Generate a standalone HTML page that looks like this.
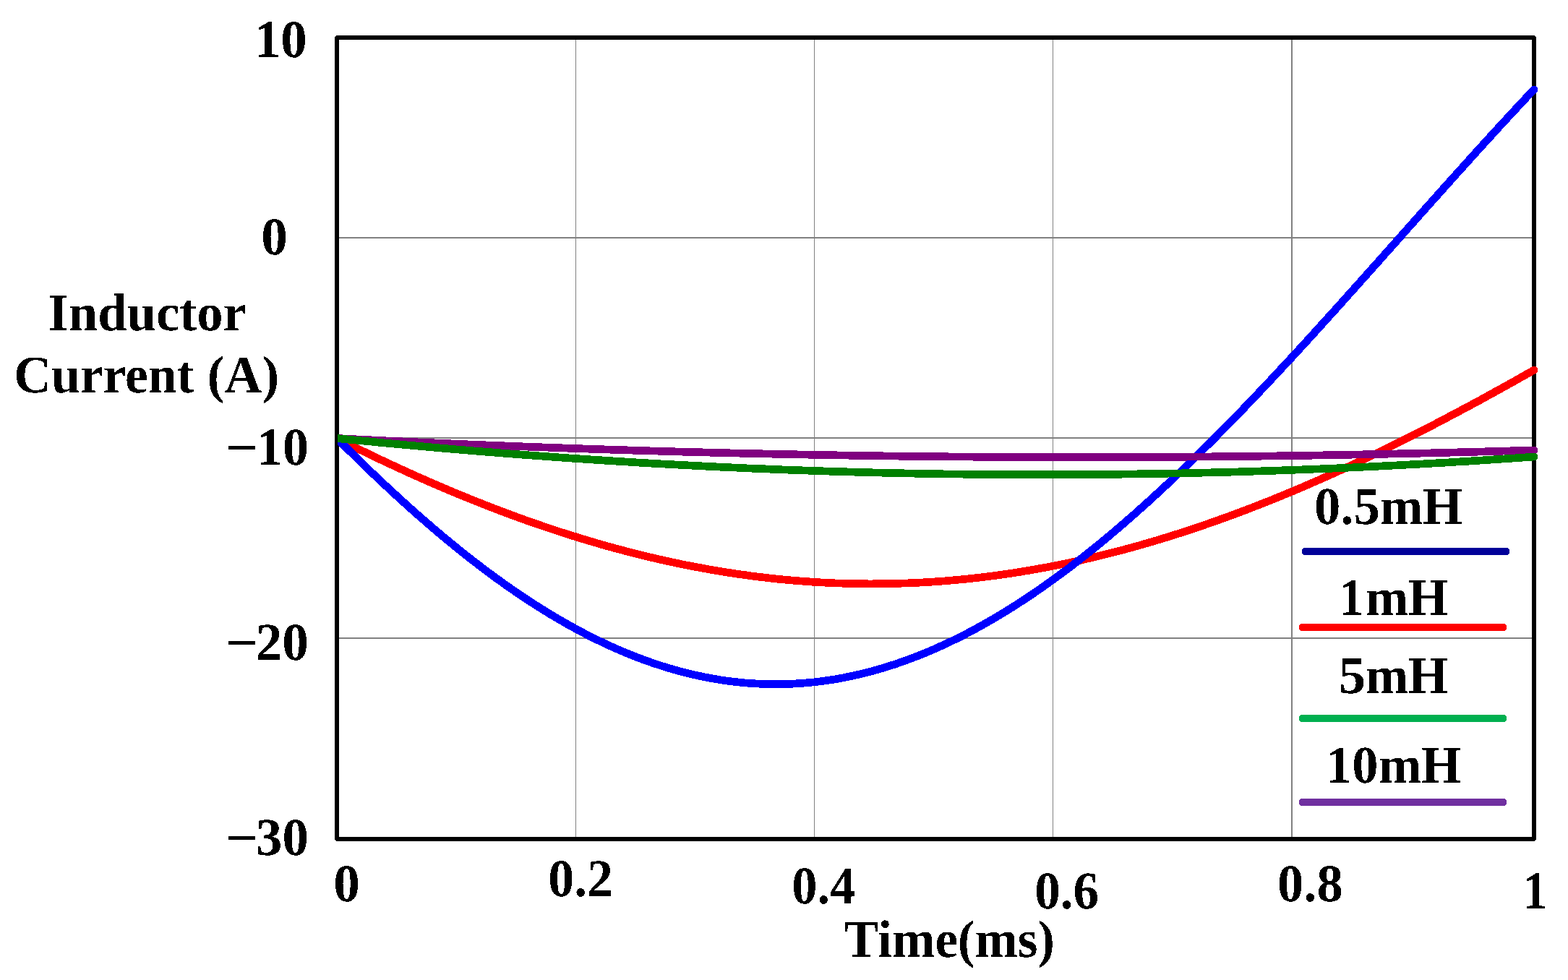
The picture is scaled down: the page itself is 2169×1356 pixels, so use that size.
<!DOCTYPE html>
<html lang="en">
<head>
<meta charset="utf-8">
<title>Inductor Current vs Time</title>
<style>
html,body{margin:0;padding:0;background:#fff;}
body{width:2169px;height:1356px;overflow:hidden;}
svg{display:block;}
text{font-family:'Liberation Serif','Times New Roman',Times,serif;font-weight:bold;fill:#000;text-rendering:geometricPrecision;white-space:pre;}
</style>
</head>
<body>
<svg width="2169" height="1356" viewBox="0 0 2169 1356">
<rect x="0" y="0" width="2169" height="1356" fill="#fff"/>
<!-- grid -->
<g shape-rendering="crispEdges" fill="#808080">
<rect x="796" y="55" width="1" height="1103"/>
<rect x="1126" y="55" width="1" height="1103"/>
<rect x="1456" y="55" width="1" height="1103"/>
<rect x="1786" y="55" width="2" height="1103"/>
<rect x="469" y="328" width="1650" height="2"/>
<rect x="469" y="605" width="1650" height="2"/>
<rect x="469" y="882" width="1650" height="2"/>
</g>
<!-- plot frame -->
<path shape-rendering="crispEdges" fill="#000" fill-rule="evenodd" d="M465.6,49 H2122.4 L2125,51.6 V1161.4 L2122.4,1164 H465.6 L463,1161.4 V51.6 Z M469,55 V1158 H2119 V55 Z"/>
<!-- curves -->
<defs><clipPath id="cl"><rect x="467" y="0" width="1702" height="1356"/></clipPath></defs>
<g fill="none" stroke-width="10.7" stroke-linecap="round" stroke-linejoin="round" clip-path="url(#cl)" shape-rendering="crispEdges">
<path stroke="#ff0000" d="M466.0,606.5 L472.9,610.0 L479.8,613.4 L486.7,616.8 L493.6,620.2 L500.5,623.5 L507.4,626.9 L514.3,630.2 L521.2,633.5 L528.1,636.8 L535.0,640.0 L541.9,643.2 L548.8,646.4 L555.7,649.6 L562.6,652.8 L569.5,655.9 L576.4,659.0 L583.3,662.0 L590.2,665.1 L597.1,668.1 L604.0,671.1 L610.9,674.0 L617.8,677.0 L624.7,679.9 L631.6,682.8 L638.5,685.6 L645.4,688.4 L652.3,691.2 L659.2,694.0 L666.1,696.7 L673.0,699.5 L679.9,702.1 L686.8,704.8 L693.7,707.4 L700.6,710.0 L707.5,712.6 L714.4,715.1 L721.3,717.6 L728.2,720.1 L735.1,722.5 L742.0,724.9 L748.9,727.3 L755.8,729.6 L762.7,731.9 L769.6,734.2 L776.5,736.5 L783.4,738.7 L790.3,740.9 L797.2,743.0 L804.1,745.2 L811.0,747.2 L817.9,749.3 L824.8,751.3 L831.7,753.3 L838.6,755.3 L845.5,757.2 L852.4,759.1 L859.3,760.9 L866.2,762.7 L873.1,764.5 L880.0,766.3 L886.9,768.0 L893.8,769.7 L900.7,771.3 L907.6,772.9 L914.5,774.5 L921.4,776.0 L928.3,777.6 L935.2,779.0 L942.1,780.5 L949.0,781.9 L955.9,783.2 L962.8,784.6 L969.7,785.8 L976.6,787.1 L983.5,788.3 L990.4,789.5 L997.3,790.7 L1004.2,791.8 L1011.1,792.8 L1018.0,793.9 L1024.9,794.9 L1031.8,795.8 L1038.7,796.8 L1045.6,797.7 L1052.5,798.5 L1059.4,799.3 L1066.3,800.1 L1073.2,800.9 L1080.1,801.6 L1087.0,802.2 L1093.9,802.9 L1100.8,803.5 L1107.7,804.0 L1114.6,804.5 L1121.5,805.0 L1128.4,805.5 L1135.3,805.9 L1142.2,806.2 L1149.1,806.6 L1156.0,806.9 L1162.9,807.1 L1169.8,807.3 L1176.7,807.5 L1183.6,807.7 L1190.5,807.8 L1197.4,807.8 L1204.3,807.9 L1211.2,807.8 L1218.1,807.8 L1225.0,807.7 L1231.9,807.6 L1238.8,807.4 L1245.7,807.2 L1252.6,807.0 L1259.5,806.7 L1266.4,806.4 L1273.3,806.1 L1280.2,805.7 L1287.1,805.3 L1294.0,804.8 L1300.9,804.3 L1307.8,803.8 L1314.7,803.2 L1321.6,802.6 L1328.5,801.9 L1335.4,801.3 L1342.3,800.5 L1349.2,799.8 L1356.1,799.0 L1363.0,798.1 L1369.9,797.3 L1376.8,796.4 L1383.7,795.4 L1390.6,794.4 L1397.5,793.4 L1404.4,792.4 L1411.3,791.3 L1418.2,790.1 L1425.1,789.0 L1432.0,787.8 L1438.9,786.5 L1445.8,785.3 L1452.7,784.0 L1459.6,782.6 L1466.5,781.2 L1473.4,779.8 L1480.3,778.4 L1487.2,776.9 L1494.1,775.4 L1501.0,773.8 L1507.9,772.2 L1514.8,770.6 L1521.7,768.9 L1528.6,767.2 L1535.5,765.5 L1542.4,763.7 L1549.3,761.9 L1556.2,760.1 L1563.1,758.2 L1570.0,756.3 L1576.9,754.4 L1583.8,752.4 L1590.7,750.4 L1597.6,748.4 L1604.5,746.3 L1611.4,744.2 L1618.3,742.1 L1625.2,739.9 L1632.1,737.7 L1639.0,735.5 L1645.9,733.2 L1652.8,730.9 L1659.7,728.6 L1666.6,726.2 L1673.5,723.8 L1680.4,721.4 L1687.3,718.9 L1694.2,716.5 L1701.1,713.9 L1708.0,711.4 L1714.9,708.8 L1721.8,706.2 L1728.7,703.6 L1735.6,700.9 L1742.5,698.2 L1749.4,695.5 L1756.3,692.8 L1763.2,690.0 L1770.1,687.2 L1777.0,684.3 L1783.9,681.5 L1790.8,678.6 L1797.7,675.7 L1804.6,672.7 L1811.5,669.7 L1818.4,666.7 L1825.3,663.7 L1832.2,660.6 L1839.1,657.6 L1846.0,654.5 L1852.9,651.3 L1859.8,648.2 L1866.7,645.0 L1873.6,641.8 L1880.5,638.5 L1887.4,635.3 L1894.3,632.0 L1901.2,628.7 L1908.1,625.4 L1915.0,622.0 L1921.9,618.7 L1928.8,615.3 L1935.7,611.8 L1942.6,608.4 L1949.5,604.9 L1956.4,601.4 L1963.3,597.9 L1970.2,594.4 L1977.1,590.9 L1984.0,587.3 L1990.9,583.7 L1997.8,580.1 L2004.7,576.4 L2011.6,572.8 L2018.5,569.1 L2025.4,565.4 L2032.3,561.7 L2039.2,558.0 L2046.1,554.3 L2053.0,550.5 L2059.9,546.7 L2066.8,542.9 L2073.7,539.1 L2080.6,535.3 L2087.5,531.4 L2094.4,527.6 L2101.3,523.7 L2108.2,519.8 L2115.1,515.9 L2122.0,512.0"/>
<path stroke="#0000ff" d="M466.0,606.5 L472.9,613.4 L479.8,620.3 L486.7,627.1 L493.6,633.9 L500.5,640.6 L507.4,647.3 L514.3,653.9 L521.2,660.5 L528.1,667.0 L535.0,673.4 L541.9,679.9 L548.8,686.2 L555.7,692.5 L562.6,698.8 L569.5,704.9 L576.4,711.1 L583.3,717.1 L590.2,723.1 L597.1,729.1 L604.0,735.0 L610.9,740.8 L617.8,746.5 L624.7,752.2 L631.6,757.8 L638.5,763.4 L645.4,768.9 L652.3,774.3 L659.2,779.6 L666.1,784.9 L673.0,790.1 L679.9,795.2 L686.8,800.3 L693.7,805.2 L700.6,810.2 L707.5,815.0 L714.4,819.7 L721.3,824.4 L728.2,829.0 L735.1,833.5 L742.0,838.0 L748.9,842.3 L755.8,846.6 L762.7,850.8 L769.6,854.9 L776.5,858.9 L783.4,862.9 L790.3,866.7 L797.2,870.5 L804.1,874.2 L811.0,877.8 L817.9,881.3 L824.8,884.7 L831.7,888.1 L838.6,891.3 L845.5,894.5 L852.4,897.6 L859.3,900.6 L866.2,903.5 L873.1,906.3 L880.0,909.0 L886.9,911.6 L893.8,914.1 L900.7,916.6 L907.6,918.9 L914.5,921.2 L921.4,923.3 L928.3,925.4 L935.2,927.4 L942.1,929.3 L949.0,931.1 L955.9,932.7 L962.8,934.3 L969.7,935.8 L976.6,937.2 L983.5,938.5 L990.4,939.7 L997.3,940.9 L1004.2,941.9 L1011.1,942.8 L1018.0,943.6 L1024.9,944.4 L1031.8,945.0 L1038.7,945.5 L1045.6,945.9 L1052.5,946.3 L1059.4,946.5 L1066.3,946.7 L1073.2,946.7 L1080.1,946.7 L1087.0,946.5 L1093.9,946.3 L1100.8,945.9 L1107.7,945.5 L1114.6,944.9 L1121.5,944.3 L1128.4,943.6 L1135.3,942.7 L1142.2,941.8 L1149.1,940.8 L1156.0,939.7 L1162.9,938.5 L1169.8,937.1 L1176.7,935.7 L1183.6,934.2 L1190.5,932.6 L1197.4,930.9 L1204.3,929.1 L1211.2,927.3 L1218.1,925.3 L1225.0,923.2 L1231.9,921.0 L1238.8,918.8 L1245.7,916.4 L1252.6,914.0 L1259.5,911.4 L1266.4,908.8 L1273.3,906.1 L1280.2,903.3 L1287.1,900.4 L1294.0,897.4 L1300.9,894.3 L1307.8,891.1 L1314.7,887.9 L1321.6,884.5 L1328.5,881.1 L1335.4,877.6 L1342.3,874.0 L1349.2,870.3 L1356.1,866.5 L1363.0,862.6 L1369.9,858.7 L1376.8,854.6 L1383.7,850.5 L1390.6,846.3 L1397.5,842.0 L1404.4,837.7 L1411.3,833.2 L1418.2,828.7 L1425.1,824.1 L1432.0,819.4 L1438.9,814.7 L1445.8,809.8 L1452.7,804.9 L1459.6,799.9 L1466.5,794.9 L1473.4,789.8 L1480.3,784.6 L1487.2,779.3 L1494.1,773.9 L1501.0,768.5 L1507.9,763.0 L1514.8,757.5 L1521.7,751.9 L1528.6,746.2 L1535.5,740.4 L1542.4,734.6 L1549.3,728.7 L1556.2,722.8 L1563.1,716.7 L1570.0,710.7 L1576.9,704.5 L1583.8,698.4 L1590.7,692.1 L1597.6,685.8 L1604.5,679.4 L1611.4,673.0 L1618.3,666.6 L1625.2,660.0 L1632.1,653.5 L1639.0,646.8 L1645.9,640.2 L1652.8,633.4 L1659.7,626.7 L1666.6,619.8 L1673.5,613.0 L1680.4,606.1 L1687.3,599.1 L1694.2,592.1 L1701.1,585.1 L1708.0,578.0 L1714.9,570.9 L1721.8,563.7 L1728.7,556.5 L1735.6,549.3 L1742.5,542.0 L1749.4,534.7 L1756.3,527.4 L1763.2,520.0 L1770.1,512.6 L1777.0,505.2 L1783.9,497.8 L1790.8,490.3 L1797.7,482.8 L1804.6,475.3 L1811.5,467.7 L1818.4,460.1 L1825.3,452.5 L1832.2,444.9 L1839.1,437.3 L1846.0,429.7 L1852.9,422.0 L1859.8,414.3 L1866.7,406.6 L1873.6,398.9 L1880.5,391.2 L1887.4,383.5 L1894.3,375.8 L1901.2,368.0 L1908.1,360.3 L1915.0,352.5 L1921.9,344.8 L1928.8,337.0 L1935.7,329.3 L1942.6,321.5 L1949.5,313.7 L1956.4,306.0 L1963.3,298.2 L1970.2,290.5 L1977.1,282.8 L1984.0,275.0 L1990.9,267.3 L1997.8,259.6 L2004.7,251.9 L2011.6,244.2 L2018.5,236.5 L2025.4,228.9 L2032.3,221.2 L2039.2,213.6 L2046.1,206.0 L2053.0,198.4 L2059.9,190.8 L2066.8,183.3 L2073.7,175.7 L2080.6,168.2 L2087.5,160.8 L2094.4,153.3 L2101.3,145.9 L2108.2,138.5 L2115.1,131.1 L2122.0,123.8"/>
<path stroke="#800080" d="M466.0,606.5 L472.9,606.8 L479.8,607.2 L486.7,607.5 L493.6,607.9 L500.5,608.2 L507.4,608.5 L514.3,608.9 L521.2,609.2 L528.1,609.5 L535.0,609.9 L541.9,610.2 L548.8,610.5 L555.7,610.8 L562.6,611.1 L569.5,611.5 L576.4,611.8 L583.3,612.1 L590.2,612.4 L597.1,612.7 L604.0,613.0 L610.9,613.3 L617.8,613.6 L624.7,613.9 L631.6,614.2 L638.5,614.5 L645.4,614.8 L652.3,615.1 L659.2,615.3 L666.1,615.6 L673.0,615.9 L679.9,616.2 L686.8,616.5 L693.7,616.7 L700.6,617.0 L707.5,617.3 L714.4,617.5 L721.3,617.8 L728.2,618.1 L735.1,618.3 L742.0,618.6 L748.9,618.8 L755.8,619.1 L762.7,619.3 L769.6,619.6 L776.5,619.8 L783.4,620.1 L790.3,620.3 L797.2,620.6 L804.1,620.8 L811.0,621.0 L817.9,621.3 L824.8,621.5 L831.7,621.7 L838.6,622.0 L845.5,622.2 L852.4,622.4 L859.3,622.6 L866.2,622.8 L873.1,623.1 L880.0,623.3 L886.9,623.5 L893.8,623.7 L900.7,623.9 L907.6,624.1 L914.5,624.3 L921.4,624.5 L928.3,624.7 L935.2,624.9 L942.1,625.1 L949.0,625.3 L955.9,625.4 L962.8,625.6 L969.7,625.8 L976.6,626.0 L983.5,626.2 L990.4,626.3 L997.3,626.5 L1004.2,626.7 L1011.1,626.9 L1018.0,627.0 L1024.9,627.2 L1031.8,627.3 L1038.7,627.5 L1045.6,627.7 L1052.5,627.8 L1059.4,628.0 L1066.3,628.1 L1073.2,628.3 L1080.1,628.4 L1087.0,628.5 L1093.9,628.7 L1100.8,628.8 L1107.7,629.0 L1114.6,629.1 L1121.5,629.2 L1128.4,629.3 L1135.3,629.5 L1142.2,629.6 L1149.1,629.7 L1156.0,629.8 L1162.9,630.0 L1169.8,630.1 L1176.7,630.2 L1183.6,630.3 L1190.5,630.4 L1197.4,630.5 L1204.3,630.6 L1211.2,630.7 L1218.1,630.8 L1225.0,630.9 L1231.9,631.0 L1238.8,631.1 L1245.7,631.2 L1252.6,631.2 L1259.5,631.3 L1266.4,631.4 L1273.3,631.5 L1280.2,631.6 L1287.1,631.6 L1294.0,631.7 L1300.9,631.8 L1307.8,631.8 L1314.7,631.9 L1321.6,632.0 L1328.5,632.0 L1335.4,632.1 L1342.3,632.1 L1349.2,632.2 L1356.1,632.2 L1363.0,632.3 L1369.9,632.3 L1376.8,632.4 L1383.7,632.4 L1390.6,632.4 L1397.5,632.5 L1404.4,632.5 L1411.3,632.5 L1418.2,632.6 L1425.1,632.6 L1432.0,632.6 L1438.9,632.6 L1445.8,632.6 L1452.7,632.7 L1459.6,632.7 L1466.5,632.7 L1473.4,632.7 L1480.3,632.7 L1487.2,632.7 L1494.1,632.7 L1501.0,632.7 L1507.9,632.7 L1514.8,632.7 L1521.7,632.7 L1528.6,632.7 L1535.5,632.7 L1542.4,632.7 L1549.3,632.6 L1556.2,632.6 L1563.1,632.6 L1570.0,632.6 L1576.9,632.5 L1583.8,632.5 L1590.7,632.5 L1597.6,632.4 L1604.5,632.4 L1611.4,632.4 L1618.3,632.3 L1625.2,632.3 L1632.1,632.2 L1639.0,632.2 L1645.9,632.1 L1652.8,632.1 L1659.7,632.0 L1666.6,632.0 L1673.5,631.9 L1680.4,631.8 L1687.3,631.8 L1694.2,631.7 L1701.1,631.6 L1708.0,631.6 L1714.9,631.5 L1721.8,631.4 L1728.7,631.3 L1735.6,631.2 L1742.5,631.2 L1749.4,631.1 L1756.3,631.0 L1763.2,630.9 L1770.1,630.8 L1777.0,630.7 L1783.9,630.6 L1790.8,630.5 L1797.7,630.4 L1804.6,630.3 L1811.5,630.2 L1818.4,630.1 L1825.3,630.0 L1832.2,629.8 L1839.1,629.7 L1846.0,629.6 L1852.9,629.5 L1859.8,629.4 L1866.7,629.2 L1873.6,629.1 L1880.5,629.0 L1887.4,628.8 L1894.3,628.7 L1901.2,628.6 L1908.1,628.4 L1915.0,628.3 L1921.9,628.1 L1928.8,628.0 L1935.7,627.8 L1942.6,627.7 L1949.5,627.5 L1956.4,627.4 L1963.3,627.2 L1970.2,627.0 L1977.1,626.9 L1984.0,626.7 L1990.9,626.5 L1997.8,626.4 L2004.7,626.2 L2011.6,626.0 L2018.5,625.8 L2025.4,625.6 L2032.3,625.5 L2039.2,625.3 L2046.1,625.1 L2053.0,624.9 L2059.9,624.7 L2066.8,624.5 L2073.7,624.3 L2080.6,624.1 L2087.5,623.9 L2094.4,623.7 L2101.3,623.5 L2108.2,623.3 L2115.1,623.1 L2122.0,622.9"/>
<path stroke="#008000" d="M466.0,606.5 L472.9,607.2 L479.8,607.9 L486.7,608.6 L493.6,609.2 L500.5,609.9 L507.4,610.6 L514.3,611.2 L521.2,611.9 L528.1,612.6 L535.0,613.2 L541.9,613.9 L548.8,614.5 L555.7,615.1 L562.6,615.8 L569.5,616.4 L576.4,617.0 L583.3,617.6 L590.2,618.3 L597.1,618.9 L604.0,619.5 L610.9,620.1 L617.8,620.7 L624.7,621.3 L631.6,621.9 L638.5,622.4 L645.4,623.0 L652.3,623.6 L659.2,624.2 L666.1,624.7 L673.0,625.3 L679.9,625.8 L686.8,626.4 L693.7,626.9 L700.6,627.5 L707.5,628.0 L714.4,628.5 L721.3,629.1 L728.2,629.6 L735.1,630.1 L742.0,630.6 L748.9,631.1 L755.8,631.6 L762.7,632.1 L769.6,632.6 L776.5,633.1 L783.4,633.6 L790.3,634.1 L797.2,634.5 L804.1,635.0 L811.0,635.5 L817.9,635.9 L824.8,636.4 L831.7,636.8 L838.6,637.3 L845.5,637.7 L852.4,638.2 L859.3,638.6 L866.2,639.0 L873.1,639.4 L880.0,639.9 L886.9,640.3 L893.8,640.7 L900.7,641.1 L907.6,641.5 L914.5,641.9 L921.4,642.2 L928.3,642.6 L935.2,643.0 L942.1,643.4 L949.0,643.7 L955.9,644.1 L962.8,644.5 L969.7,644.8 L976.6,645.2 L983.5,645.5 L990.4,645.8 L997.3,646.2 L1004.2,646.5 L1011.1,646.8 L1018.0,647.1 L1024.9,647.4 L1031.8,647.8 L1038.7,648.1 L1045.6,648.4 L1052.5,648.6 L1059.4,648.9 L1066.3,649.2 L1073.2,649.5 L1080.1,649.8 L1087.0,650.0 L1093.9,650.3 L1100.8,650.5 L1107.7,650.8 L1114.6,651.0 L1121.5,651.3 L1128.4,651.5 L1135.3,651.7 L1142.2,652.0 L1149.1,652.2 L1156.0,652.4 L1162.9,652.6 L1169.8,652.8 L1176.7,653.0 L1183.6,653.2 L1190.5,653.4 L1197.4,653.6 L1204.3,653.8 L1211.2,654.0 L1218.1,654.1 L1225.0,654.3 L1231.9,654.4 L1238.8,654.6 L1245.7,654.7 L1252.6,654.9 L1259.5,655.0 L1266.4,655.2 L1273.3,655.3 L1280.2,655.4 L1287.1,655.5 L1294.0,655.6 L1300.9,655.8 L1307.8,655.9 L1314.7,656.0 L1321.6,656.0 L1328.5,656.1 L1335.4,656.2 L1342.3,656.3 L1349.2,656.4 L1356.1,656.4 L1363.0,656.5 L1369.9,656.5 L1376.8,656.6 L1383.7,656.6 L1390.6,656.7 L1397.5,656.7 L1404.4,656.8 L1411.3,656.8 L1418.2,656.8 L1425.1,656.8 L1432.0,656.8 L1438.9,656.8 L1445.8,656.8 L1452.7,656.8 L1459.6,656.8 L1466.5,656.8 L1473.4,656.8 L1480.3,656.7 L1487.2,656.7 L1494.1,656.7 L1501.0,656.6 L1507.9,656.6 L1514.8,656.5 L1521.7,656.5 L1528.6,656.4 L1535.5,656.3 L1542.4,656.3 L1549.3,656.2 L1556.2,656.1 L1563.1,656.0 L1570.0,655.9 L1576.9,655.8 L1583.8,655.7 L1590.7,655.6 L1597.6,655.5 L1604.5,655.4 L1611.4,655.3 L1618.3,655.1 L1625.2,655.0 L1632.1,654.9 L1639.0,654.7 L1645.9,654.6 L1652.8,654.4 L1659.7,654.2 L1666.6,654.1 L1673.5,653.9 L1680.4,653.7 L1687.3,653.6 L1694.2,653.4 L1701.1,653.2 L1708.0,653.0 L1714.9,652.8 L1721.8,652.6 L1728.7,652.4 L1735.6,652.1 L1742.5,651.9 L1749.4,651.7 L1756.3,651.5 L1763.2,651.2 L1770.1,651.0 L1777.0,650.7 L1783.9,650.5 L1790.8,650.2 L1797.7,650.0 L1804.6,649.7 L1811.5,649.4 L1818.4,649.1 L1825.3,648.9 L1832.2,648.6 L1839.1,648.3 L1846.0,648.0 L1852.9,647.7 L1859.8,647.4 L1866.7,647.1 L1873.6,646.7 L1880.5,646.4 L1887.4,646.1 L1894.3,645.8 L1901.2,645.4 L1908.1,645.1 L1915.0,644.7 L1921.9,644.4 L1928.8,644.0 L1935.7,643.7 L1942.6,643.3 L1949.5,642.9 L1956.4,642.5 L1963.3,642.2 L1970.2,641.8 L1977.1,641.4 L1984.0,641.0 L1990.9,640.6 L1997.8,640.2 L2004.7,639.8 L2011.6,639.3 L2018.5,638.9 L2025.4,638.5 L2032.3,638.1 L2039.2,637.6 L2046.1,637.2 L2053.0,636.7 L2059.9,636.3 L2066.8,635.8 L2073.7,635.4 L2080.6,634.9 L2087.5,634.4 L2094.4,634.0 L2101.3,633.5 L2108.2,633.0 L2115.1,632.5 L2122.0,632.0"/>
</g>
<!-- legend swatches -->
<g shape-rendering="crispEdges">
<rect x="1801" y="758" width="287" height="10" rx="4" ry="4" fill="#000099"/>
<rect x="1797" y="863" width="287" height="10" rx="4" ry="4" fill="#ff0000"/>
<rect x="1797" y="989" width="287" height="10" rx="4" ry="4" fill="#00b050"/>
<rect x="1797" y="1105" width="287" height="10" rx="4" ry="4" fill="#7030a0"/>
</g>
<!-- labels (hard-edged like the bitmap original) -->
<defs><filter id="hard" x="0" y="0" width="2169" height="1356" filterUnits="userSpaceOnUse" color-interpolation-filters="sRGB"><feComponentTransfer><feFuncA type="discrete" tableValues="0 1"/></feComponentTransfer></filter></defs>
<g filter="url(#hard)">
<text transform="matrix(1 0 0 1.02361 0 79.00)" font-size="72" xml:space="preserve"><tspan x="351.98" y="0" textLength="72.75" lengthAdjust="spacingAndGlyphs">10</tspan></text>
<text transform="matrix(1 0 0 1.02361 0 352.00)" font-size="72" xml:space="preserve"><tspan x="361.16" y="0" textLength="36.59" lengthAdjust="spacingAndGlyphs">0</tspan></text>
<text transform="matrix(1 0 0 1.02361 0 643.00)" font-size="72" xml:space="preserve"><tspan x="311.81" y="1" textLength="45.46" lengthAdjust="spacingAndGlyphs">−</tspan><tspan x="355.05" y="0" textLength="71.84" lengthAdjust="spacingAndGlyphs">10</tspan></text>
<text transform="matrix(1 0 0 1.02361 0 913.00)" font-size="72" xml:space="preserve"><tspan x="311.81" y="1" textLength="45.46" lengthAdjust="spacingAndGlyphs">−</tspan><tspan x="353.69" y="0" textLength="73.26" lengthAdjust="spacingAndGlyphs">20</tspan></text>
<text transform="matrix(1 0 0 1.02361 0 1183.00)" font-size="72" xml:space="preserve"><tspan x="311.81" y="1" textLength="45.46" lengthAdjust="spacingAndGlyphs">−</tspan><tspan x="354.07" y="0" textLength="72.86" lengthAdjust="spacingAndGlyphs">30</tspan></text>
<text transform="matrix(1 0 0 1.01806 0 457.00)" font-size="72" xml:space="preserve"><tspan x="66.64" y="0" textLength="274.07" lengthAdjust="spacingAndGlyphs">Inductor</tspan></text>
<text transform="matrix(1 0 0 1.01806 0 543.00)" font-size="72" xml:space="preserve"><tspan x="19.32" y="0" textLength="249.13" lengthAdjust="spacingAndGlyphs">Current</tspan><tspan x="268.77" y="0" textLength="117.32" lengthAdjust="spacingAndGlyphs"> (A)</tspan></text>
<text transform="matrix(1 0 0 1.02361 0 1247.00)" font-size="72" xml:space="preserve"><tspan x="461.26" y="0" textLength="36.59" lengthAdjust="spacingAndGlyphs">0</tspan></text>
<text transform="matrix(1 0 0 1.02361 0 1240.00)" font-size="72" xml:space="preserve"><tspan x="758.20" y="0" textLength="89.85" lengthAdjust="spacingAndGlyphs">0.2</tspan></text>
<text transform="matrix(1 0 0 1.02361 0 1250.00)" font-size="72" xml:space="preserve"><tspan x="1095.16" y="0" textLength="88.08" lengthAdjust="spacingAndGlyphs">0.4</tspan></text>
<text transform="matrix(1 0 0 1.02361 0 1257.00)" font-size="72" xml:space="preserve"><tspan x="1431.23" y="0" textLength="89.01" lengthAdjust="spacingAndGlyphs">0.6</tspan></text>
<text transform="matrix(1 0 0 1.02361 0 1247.00)" font-size="72" xml:space="preserve"><tspan x="1767.08" y="0" textLength="90.57" lengthAdjust="spacingAndGlyphs">0.8</tspan></text>
<text transform="matrix(1 0 0 1.02361 0 1257.00)" font-size="72" xml:space="preserve"><tspan x="2106.41" y="0" textLength="34.29" lengthAdjust="spacingAndGlyphs">1</tspan></text>
<text transform="matrix(1 0 0 1.01806 0 1324.00)" font-size="72" xml:space="preserve"><tspan x="1167.83" y="0" textLength="157.23" lengthAdjust="spacingAndGlyphs">Time</tspan><tspan x="1324.70" y="0" textLength="134.38" lengthAdjust="spacingAndGlyphs">(ms)</tspan></text>
<text transform="matrix(1 0 0 1.01806 0 725.00)" font-size="72" xml:space="preserve"><tspan x="1817.97" y="0" textLength="90.85" lengthAdjust="spacingAndGlyphs">0.5</tspan><tspan x="1909.15" y="0" textLength="113.97" lengthAdjust="spacingAndGlyphs">mH</tspan></text>
<text transform="matrix(1 0 0 1.01806 0 851.00)" font-size="72" xml:space="preserve"><tspan x="1852.31" y="0" textLength="34.29" lengthAdjust="spacingAndGlyphs">1</tspan><tspan x="1888.95" y="0" textLength="114.28" lengthAdjust="spacingAndGlyphs">mH</tspan></text>
<text transform="matrix(1 0 0 1.01806 0 959.00)" font-size="72" xml:space="preserve"><tspan x="1851.72" y="0" textLength="37.28" lengthAdjust="spacingAndGlyphs">5</tspan><tspan x="1888.95" y="0" textLength="114.28" lengthAdjust="spacingAndGlyphs">mH</tspan></text>
<text transform="matrix(1 0 0 1.01806 0 1083.00)" font-size="72" xml:space="preserve"><tspan x="1833.96" y="0" textLength="72.41" lengthAdjust="spacingAndGlyphs">10</tspan><tspan x="1907.15" y="0" textLength="114.17" lengthAdjust="spacingAndGlyphs">mH</tspan></text>
</g>
</svg>
</body>
</html>
